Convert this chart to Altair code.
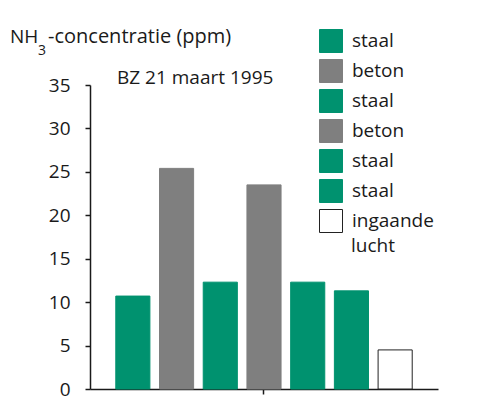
import altair as alt
import pandas as pd

# data
keys = ["0", "1", "2", "3", "4", "5", "6"]
materials = ["staal", "beton", "staal", "beton", "staal", "staal", "ingaande lucht"]
values = [10.7, 25.4, 12.3, 23.5, 12.3, 11.3, 4.5]
fill_colors = ["#00926f", "#7f7f7f", "#00926f", "#7f7f7f", "#00926f", "#00926f", "#ffffff"]
stroke_colors = ["#00926f", "#7f7f7f", "#00926f", "#7f7f7f", "#00926f", "#00926f", "#222222"]
legend_labels = ["staal", "beton", "staal", "beton", "staal", "staal", "ingaande"]
y_ticks = [0, 5, 10, 15, 20, 25, 30, 35]

FONT = "Open Sans"
TXT = "#1a1a1a"
FS = 19

df = pd.DataFrame({"key": keys, "materiaal": materials, "waarde": values})

label_expr = "[" + ",".join("'" + l + "'" for l in legend_labels) + "][toNumber(datum.value)]"

legend = alt.Legend(
    orient="none", legendX=229, legendY=-56, title=None,
    symbolType="square", symbolSize=529, symbolStrokeWidth=1,
    rowPadding=2, labelFontSize=FS, labelFont=FONT, labelColor=TXT,
    labelOffset=9, padding=0, labelExpr=label_expr,
)

bars = alt.Chart(df).mark_bar(strokeWidth=1).encode(
    x=alt.X("key:N", sort=keys,
            scale=alt.Scale(paddingInner=0.22, paddingOuter=0.59),
            axis=alt.Axis(values=["3"], labels=False, title=None, tickSize=5,
                          tickColor=TXT, domainColor=TXT, domainWidth=1.5, tickWidth=1.5)),
    y=alt.Y("waarde:Q", scale=alt.Scale(domain=[0, 35], nice=False),
            axis=alt.Axis(values=y_ticks, title=None, grid=False, tickSize=5,
                          labelPadding=15, labelFontSize=FS, labelFont=FONT,
                          labelColor=TXT, tickColor=TXT, domainColor=TXT,
                          domainWidth=1.5, tickWidth=1.5)),
    color=alt.Color("key:N", scale=alt.Scale(domain=keys, range=fill_colors), legend=legend),
    stroke=alt.Stroke("key:N", scale=alt.Scale(domain=keys, range=stroke_colors), legend=legend),
)

def label(txt, x, y, size=FS):
    return alt.Chart(pd.DataFrame({"t": [txt]})).mark_text(
        align="left", baseline="alphabetic", font=FONT, fontSize=size, color=TXT
    ).encode(text="t:N", x=alt.value(x), y=alt.value(y))

title_nh = label("NH", -80, -42)
title_3 = label("3", -52, -30, 14)
title_rest = label("-concentratie (ppm)", -42, -42, 20)
subtitle = label("BZ 21 maart 1995", 27, -1)
lucht = label("lucht", 261, 167)

chart = alt.layer(bars, title_nh, title_3, title_rest, subtitle, lucht).properties(
    width=348, height=304,
    autosize=alt.AutoSizeParams(type="none"),
    padding={"left": 82, "top": 77, "right": 49, "bottom": 13},
    background="white",
).configure_view(strokeWidth=0)

chart.save("out.html", embed_options={"renderer": "svg", "actions": False})
